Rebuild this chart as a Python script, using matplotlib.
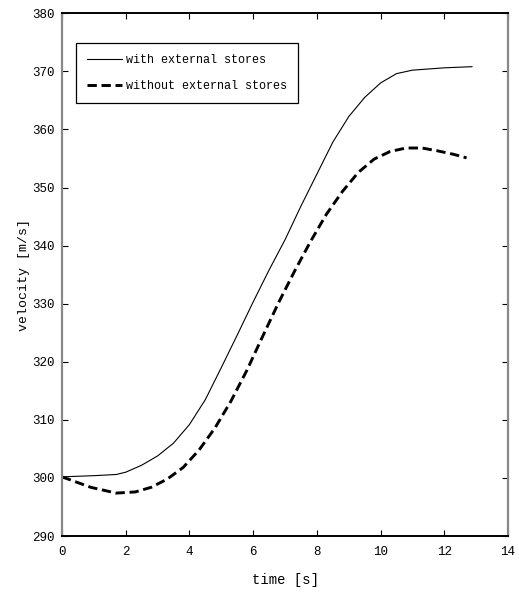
import matplotlib.pyplot as plt

# velocity over time
t_with = [0, 1.0, 1.7, 2.0, 2.5, 3.0, 3.5, 4.0, 4.5, 5.0, 5.5, 6.0, 6.5,
          7.0, 7.5, 8.0, 8.5, 9.0, 9.5, 10.0, 10.5, 11.0, 11.5, 12.0, 12.87]
v_with = [300.2, 300.4, 300.6, 301.0, 302.2, 303.8, 306.0, 309.2, 313.5,
          319.0, 324.6, 330.3, 335.8, 341.0, 346.8, 352.3, 357.8, 362.2,
          365.5, 368.0, 369.6, 370.2, 370.4, 370.6, 370.8]

t_without = [0, 0.9, 1.7, 2.3, 2.8, 3.3, 3.8, 4.3, 4.8, 5.3, 5.8, 6.3, 6.8,
             7.3, 7.8, 8.3, 8.8, 9.3, 9.8, 10.3, 10.8, 11.3, 11.8, 12.3, 12.7]
v_without = [300.2, 298.4, 297.4, 297.6, 298.4, 299.8, 301.8, 304.8, 308.6,
             313.2, 318.5, 324.4, 330.2, 335.6, 340.7, 345.4, 349.3, 352.6,
             354.9, 356.2, 356.8, 356.8, 356.3, 355.7, 355.1]

xticks = [0, 2, 4, 6, 8, 10, 12, 14]
yticks = [290, 300, 310, 320, 330, 340, 350, 360, 370, 380]

plt.rcParams['font.family'] = ['Liberation Mono', 'DejaVu Sans Mono']

fig = plt.figure(figsize=(5.19, 6.01), dpi=100)
ax = fig.add_axes([0.1195, 0.108, 0.8593, 0.87])

ax.plot(t_with, v_with, color='black', lw=0.8, label='with external stores')
ax.plot(t_without, v_without, color='black', lw=2.1, linestyle=(0, (3.2, 1.6)),
        label='without external stores')

ax.set_xlim(0, 14)
ax.set_ylim(290, 380)
ax.set_xticks(xticks)
ax.set_yticks(yticks)
ax.tick_params(direction='in', top=True, right=True, length=4, width=0.8,
               labelsize=9)
ax.tick_params(axis='y', pad=5)
ax.tick_params(axis='x', pad=7)

for side in ['top', 'bottom']:
    ax.spines[side].set_color('black')
    ax.spines[side].set_linewidth(1.4)
for side in ['left', 'right']:
    ax.spines[side].set_color('#888888')
    ax.spines[side].set_linewidth(1.6)

ax.set_xlabel('time [s]', fontsize=10, labelpad=11)
ax.set_ylabel('velocity [m/s]', fontsize=9.5, labelpad=2)

leg = ax.legend(loc='upper left', bbox_to_anchor=(0.031, 0.943), fontsize=8.5,
                fancybox=False, edgecolor='black', framealpha=1,
                borderaxespad=0, handlelength=3.0, handletextpad=0.3,
                borderpad=0.95, labelspacing=1.15)
leg.get_frame().set_linewidth(0.9)

fig.savefig('out.png', dpi=100)
